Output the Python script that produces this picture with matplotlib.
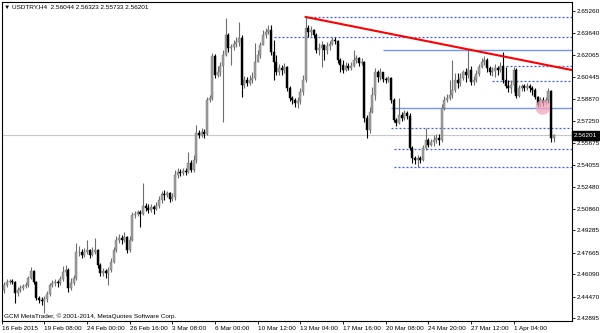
import matplotlib
matplotlib.use("Agg")
import matplotlib.pyplot as plt
import numpy as np

plt.rcParams["font.family"] = ["Liberation Sans", "DejaVu Sans"]

# ---- USDTRY H4 candles ----------------------------------------------------
first_open = 2.4495
close = [2.4531, 2.4553, 2.4560, 2.4553, 2.4473, 2.4495, 2.4510, 2.4524, 2.4531, 2.4582,
         2.4633, 2.4553, 2.4437, 2.4422, 2.4415, 2.4429, 2.4466, 2.4531, 2.4546, 2.4553,
         2.4546, 2.4575, 2.4626, 2.4640, 2.4510, 2.4546, 2.4582, 2.4771, 2.4771, 2.4750,
         2.4771, 2.4786, 2.4750, 2.4771, 2.4786, 2.4677, 2.4619, 2.4633, 2.4619, 2.4640,
         2.4699, 2.4786, 2.4859, 2.4873, 2.4859, 2.4881, 2.4786, 2.4859, 2.5041, 2.5048,
         2.5063, 2.5048, 2.5106, 2.5092, 2.5078, 2.5099, 2.5085, 2.5106, 2.5150, 2.5194,
         2.5186, 2.5201, 2.5157, 2.5172, 2.5332, 2.5354, 2.5347, 2.5361, 2.5354, 2.5419,
         2.5368, 2.5441, 2.5638, 2.5623, 2.5645, 2.5630, 2.5878, 2.5893, 2.6198, 2.6060,
         2.6082, 2.6126, 2.6206, 2.6351, 2.6257, 2.6264, 2.6286, 2.6300, 2.6329, 2.5987,
         2.6024, 2.6002, 2.6024, 2.6038, 2.6155, 2.6206, 2.6278, 2.6351, 2.6373, 2.6388,
         2.6227, 2.6155, 2.6082, 2.6111, 2.6096, 2.6118, 2.5965, 2.5893, 2.5878, 2.5856,
         2.5871, 2.5936, 2.6024, 2.6402, 2.6373, 2.6388, 2.6351, 2.6242, 2.6257, 2.6278,
         2.6242, 2.6271, 2.6286, 2.6315, 2.6308, 2.6169, 2.6133, 2.6096, 2.6126, 2.6111,
         2.6126, 2.6169, 2.6184, 2.6147, 2.6155, 2.5747, 2.5660, 2.5791, 2.5914, 2.6082,
         2.6045, 2.6082, 2.6031, 2.6024, 2.6038, 2.5878, 2.5732, 2.5711, 2.5769, 2.5747,
         2.5783, 2.5762, 2.5529, 2.5456, 2.5441, 2.5456, 2.5441, 2.5529, 2.5587, 2.5550,
         2.5572, 2.5587, 2.5601, 2.5587, 2.5820, 2.5878, 2.5893, 2.5914, 2.5951, 2.6024,
         2.6002, 2.6038, 2.6082, 2.6060, 2.6096, 2.6009, 2.6024, 2.6067, 2.6118, 2.6155,
         2.6169, 2.6111, 2.6082, 2.6089, 2.6111, 2.6096, 2.6126, 2.6024, 2.5980, 2.5965,
         2.5987, 2.6096, 2.5907, 2.5965, 2.5980, 2.5965, 2.5980, 2.5965, 2.5951, 2.5900,
         2.5842, 2.5878, 2.5856, 2.5878, 2.5944, 2.56044, 2.56201]
high = [2.4553, 2.4575, 2.4575, 2.4575, 2.4560, 2.4517, 2.4531, 2.4539, 2.4553, 2.4597,
        2.4662, 2.4640, 2.4560, 2.4451, 2.4444, 2.4451, 2.4488, 2.4546, 2.4568, 2.4575,
        2.4568, 2.4597, 2.4670, 2.4677, 2.4655, 2.4582, 2.4604, 2.4837, 2.4815, 2.4793,
        2.4801, 2.4859, 2.4793, 2.4808, 2.4873, 2.4793, 2.4691, 2.4655, 2.4648, 2.4662,
        2.4728, 2.4808, 2.4888, 2.4902, 2.4895, 2.4917, 2.4888, 2.4888, 2.5063, 2.5070,
        2.5078, 2.5078, 2.5274, 2.5128, 2.5121, 2.5121, 2.5114, 2.5135, 2.5179, 2.5216,
        2.5223, 2.5216, 2.5208, 2.5201, 2.5368, 2.5383, 2.5376, 2.5383, 2.5383, 2.5499,
        2.5441, 2.5478, 2.5696, 2.5660, 2.5674, 2.5667, 2.5900, 2.5914, 2.6220, 2.6213,
        2.6126, 2.6155, 2.6242, 2.6475, 2.6366, 2.6286, 2.6315, 2.6337, 2.6446, 2.6351,
        2.6053, 2.6045, 2.6060, 2.6082, 2.6293, 2.6242, 2.6300, 2.6388, 2.6402, 2.6424,
        2.6424, 2.6315, 2.6206, 2.6140, 2.6133, 2.6147, 2.6126, 2.5980, 2.5907, 2.5893,
        2.5900, 2.5965, 2.6060, 2.6482, 2.6424, 2.6417, 2.6395, 2.6366, 2.6293, 2.6308,
        2.6286, 2.6300, 2.6308, 2.6337, 2.6337, 2.6315, 2.6184, 2.6169, 2.6155, 2.6147,
        2.6155, 2.6242, 2.6206, 2.6191, 2.6184, 2.6162, 2.5769, 2.5827, 2.5973, 2.6111,
        2.6096, 2.6111, 2.6067, 2.6045, 2.6053, 2.6045, 2.5893, 2.5747, 2.5893, 2.5791,
        2.5805, 2.5798, 2.5783, 2.5543, 2.5470, 2.5478, 2.5470, 2.5550, 2.5674, 2.5601,
        2.5594, 2.5623, 2.5630, 2.5630, 2.5849, 2.5907, 2.5922, 2.6024, 2.6169, 2.6075,
        2.6075, 2.6075, 2.6096, 2.6111, 2.6242, 2.6126, 2.6053, 2.6096, 2.6140, 2.6184,
        2.6198, 2.6184, 2.6126, 2.6118, 2.6140, 2.6126, 2.6155, 2.6227, 2.6118, 2.6024,
        2.6024, 2.6118, 2.6111, 2.5987, 2.5995, 2.5995, 2.6002, 2.5995, 2.5980, 2.5965,
        2.5907, 2.5900, 2.5900, 2.5900, 2.5965, 2.5951, 2.56323]
low = [2.4473, 2.4517, 2.4539, 2.4539, 2.4400, 2.4451, 2.4480, 2.4495, 2.4510, 2.4517,
       2.4575, 2.4539, 2.4422, 2.4400, 2.4386, 2.4327, 2.4407, 2.4451, 2.4517, 2.4524,
       2.4517, 2.4531, 2.4560, 2.4597, 2.4480, 2.4495, 2.4531, 2.4568, 2.4742, 2.4728,
       2.4735, 2.4757, 2.4728, 2.4742, 2.4757, 2.4655, 2.4597, 2.4597, 2.4582, 2.4531,
       2.4626, 2.4691, 2.4771, 2.4837, 2.4830, 2.4844, 2.4764, 2.4771, 2.4852, 2.5019,
       2.5034, 2.4953, 2.5041, 2.5070, 2.5056, 2.5063, 2.5048, 2.5078, 2.5092, 2.5128,
       2.5150, 2.5172, 2.5135, 2.5143, 2.5150, 2.5310, 2.5325, 2.5332, 2.5332, 2.5347,
       2.5354, 2.5354, 2.5419, 2.5601, 2.5609, 2.5601, 2.5623, 2.5863, 2.5878, 2.6038,
       2.6045, 2.6053, 2.5718, 2.6198, 2.6227, 2.6133, 2.6242, 2.6264, 2.6271, 2.5900,
       2.5965, 2.5980, 2.5987, 2.6002, 2.6024, 2.6155, 2.6184, 2.6278, 2.6329, 2.6358,
       2.6206, 2.6024, 2.6060, 2.6060, 2.6060, 2.6075, 2.5944, 2.5871, 2.5849, 2.5827,
       2.5820, 2.5849, 2.5914, 2.6009, 2.6337, 2.6344, 2.6329, 2.6220, 2.6206, 2.6118,
       2.6169, 2.6213, 2.6242, 2.6278, 2.6286, 2.6147, 2.6082, 2.6075, 2.6089, 2.6096,
       2.6096, 2.6118, 2.6147, 2.6126, 2.6133, 2.5718, 2.5601, 2.5638, 2.5783, 2.5878,
       2.6009, 2.6024, 2.6009, 2.6002, 2.6009, 2.5856, 2.5718, 2.5689, 2.5703, 2.5725,
       2.5732, 2.5740, 2.5514, 2.5419, 2.5412, 2.5390, 2.5419, 2.5434, 2.5514, 2.5536,
       2.5543, 2.5543, 2.5565, 2.5550, 2.5572, 2.5805, 2.5863, 2.5878, 2.5893, 2.5936,
       2.5965, 2.5980, 2.6024, 2.6009, 2.6038, 2.5987, 2.5987, 2.6009, 2.6053, 2.6111,
       2.6133, 2.6082, 2.6060, 2.6053, 2.6045, 2.6060, 2.6082, 2.6002, 2.5965, 2.5936,
       2.5929, 2.5936, 2.5893, 2.5900, 2.5944, 2.5944, 2.5951, 2.5936, 2.5914, 2.5885,
       2.5827, 2.5827, 2.5834, 2.5842, 2.5856, 2.5572, 2.55733]

ytick_vals = [2.65260, 2.63640, 2.62065, 2.60445, 2.58870, 2.57250, 2.55675, 2.54055,
              2.52480, 2.50860, 2.49285, 2.47665, 2.46090, 2.44470, 2.42895]
xtick_bars = [-0.86, 15, 31, 47, 63, 79, 95, 111, 127, 143, 159, 175, 191]
xtick_labels = ["16 Feb 2015", "19 Feb 08:00", "24 Feb 00:00", "26 Feb 16:00",
                "3 Mar 08:00", "6 Mar 00:00", "10 Mar 12:00", "13 Mar 04:00",
                "17 Mar 16:00", "20 Mar 08:00", "24 Mar 20:00", "27 Mar 12:00",
                "1 Apr 04:00"]

bid = 2.56201
dotted_levels = [2.6482, 2.6333, 2.6126, 2.6016, 2.5674, 2.5519, 2.5390]
dotted_from = [113, 101, 188, 183, 145, 146, 146]
solid_levels = [2.6242, 2.5817]
solid_from = [142, 145]
trend_bars = [113, 213]
trend_vals = [2.6482, 2.6095]
mark_bar, mark_val = 201.9, 2.5824

X_LO, X_HI = -0.86, 212.75
Y_LO, Y_HI = 2.4272, 2.6591

# ---- figure ----------------------------------------------------------------
fig = plt.figure(figsize=(6, 3.33), dpi=100)
ax = fig.add_axes([2 / 600, 1 - 320.7 / 333, 569.7 / 600, 318.7 / 333])
ax.set_xlim(X_LO, X_HI)
ax.set_ylim(Y_LO, Y_HI)

c = np.array(close)
o = np.r_[first_open, c[:-1]]
h = np.array(high)
l = np.array(low)
x = np.arange(len(c))
up = c >= o

BULL = "#a0a0a0"
BULL_WICK = "#6e6e6e"

ax.axhline(bid, color="#c8c8c8", lw=0.8, zorder=1)
for lv, x0 in zip(dotted_levels, dotted_from):
    ax.hlines(lv, x0, X_HI, color="#3d62e8", lw=0.9, linestyles=(0, (1.6, 1.6)), zorder=1)
for lv, x0 in zip(solid_levels, solid_from):
    ax.hlines(lv, x0, X_HI, color="#7395f2", lw=1.0, zorder=1)

ax.vlines(x[up], l[up], h[up], color=BULL_WICK, lw=0.8, zorder=2)
ax.vlines(x[~up], l[~up], h[~up], color="black", lw=0.8, zorder=2)
body = np.maximum(np.abs(c - o), 0.0004)
ax.bar(x[up], body[up], bottom=o[up], width=0.75, color=BULL,
       edgecolor=BULL_WICK, linewidth=0.3, zorder=3)
ax.bar(x[~up], body[~up], bottom=c[~up], width=0.75, color="black",
       edgecolor="black", linewidth=0.3, zorder=3)

ax.plot(trend_bars, trend_vals, color="red", lw=1.5, zorder=4, clip_on=True)
ax.scatter([mark_bar], [mark_val], s=110, color="#f5a3b8", alpha=0.75,
           edgecolors="none", zorder=5)

# ---- axes decoration -------------------------------------------------------
for sp in ax.spines.values():
    sp.set_color("black")
    sp.set_linewidth(0.8)

ax.yaxis.tick_right()
ax.set_yticks(ytick_vals)
ax.set_yticklabels([f"{v:.5f}" for v in ytick_vals])
ax.tick_params(axis="y", direction="out", length=2, width=0.6, pad=1.5,
               labelsize=4.6, colors="black")
ax.set_xticks(xtick_bars)
ax.set_xticklabels(xtick_labels)
ax.tick_params(axis="x", direction="out", length=2, width=0.6, pad=1.5,
               labelsize=4.6, colors="black")
for lab in ax.get_xticklabels():
    lab.set_horizontalalignment("left")

ax.text(1.004, bid, f"{bid:.5f}", transform=ax.get_yaxis_transform(),
        ha="left", va="center", fontsize=4.6, color="white", zorder=10,
        bbox=dict(boxstyle="square,pad=0.25", fc="black", ec="black"), clip_on=False)

fig.text(4 / 600, 1 - 7 / 333, "▼ USDTRY,H4  2.56044 2.56323 2.55733 2.56201",
         fontsize=4.6, va="center", ha="left")
fig.text(4 / 600, 1 - 316.5 / 333, "GCM MetaTrader, © 2001-2014, MetaQuotes Software Corp.",
         fontsize=4.6, va="center", ha="left")

fig.savefig("out.png", dpi=100)
